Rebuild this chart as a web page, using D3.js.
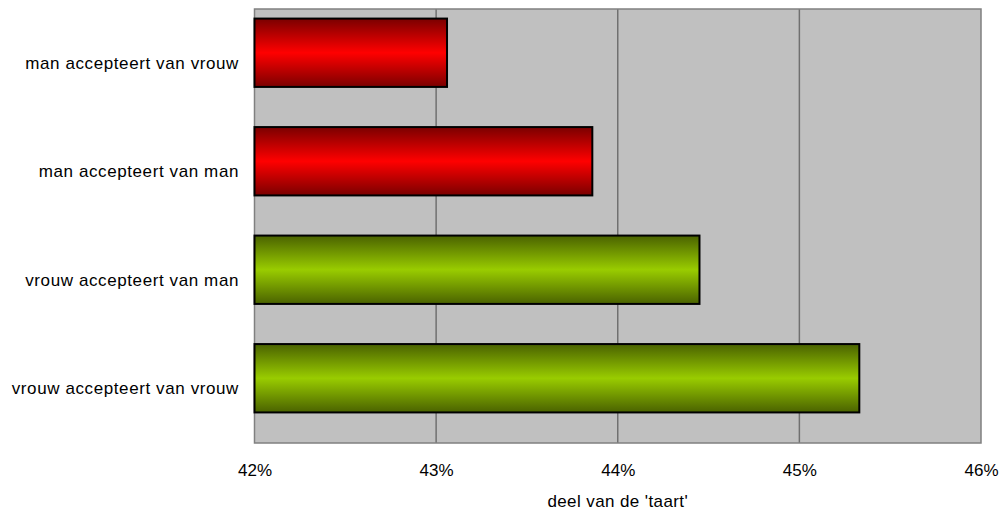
<!DOCTYPE html>
<html>
<head>
<meta charset="utf-8">
<script src="https://cdn.jsdelivr.net/npm/d3@7"></script>
<style>
  html, body { margin: 0; padding: 0; background: #ffffff; }
  svg text { font-family: "Liberation Sans", Arial, sans-serif; fill: #000; }
</style>
</head>
<body>
<svg id="chart" width="1006" height="510"></svg>
<script>
// Share of the 'pie' accepted, per responder/proposer combination
const categories = [
  "man accepteert van vrouw",
  "man accepteert van man",
  "vrouw accepteert van man",
  "vrouw accepteert van vrouw"
];
const values = [43.06, 43.86, 44.45, 45.33];
const groups = ["man", "man", "vrouw", "vrouw"];
const tickValues = [42, 43, 44, 45, 46];
const xTitle = "deel van de 'taart'";

const svg = d3.select("#chart");
const plot = { left: 254.5, right: 981, top: 9, bottom: 443 };

const x = d3.scaleLinear().domain([42, 46]).range([plot.left, plot.right]);

// Category bands for the labels fill the plot height
const yLabel = d3.scaleBand().domain(categories).range([plot.top, plot.bottom]);
// Bars sit slightly higher within each band
const yBar = d3.scaleBand().domain(categories)
  .range([plot.top - 10.5, plot.bottom - 10.5]).paddingInner(0.37).paddingOuter(0.185);

// Gradients for the two bar colours
const defs = svg.append("defs");
const grads = {
  man: ["#7a0000", "#ff0000"],
  vrouw: ["#4a6200", "#99cc00"]
};
Object.entries(grads).forEach(([k, [dark, light]]) => {
  const g = defs.append("linearGradient").attr("id", "g-" + k)
    .attr("x1", 0).attr("y1", 0).attr("x2", 0).attr("y2", 1);
  g.append("stop").attr("offset", "0%").attr("stop-color", dark);
  g.append("stop").attr("offset", "50%").attr("stop-color", light);
  g.append("stop").attr("offset", "100%").attr("stop-color", dark);
});

// Plot background
svg.append("rect")
  .attr("x", plot.left).attr("y", plot.top)
  .attr("width", plot.right - plot.left).attr("height", plot.bottom - plot.top)
  .attr("fill", "#c0c0c0");

// Vertical gridlines
svg.append("g").selectAll("line").data(tickValues.slice(1, -1)).join("line")
  .attr("x1", d => x(d)).attr("x2", d => x(d))
  .attr("y1", plot.top).attr("y2", plot.bottom)
  .attr("stroke", "#707070").attr("stroke-width", 1.5);

// Plot border
svg.append("rect")
  .attr("x", plot.left).attr("y", plot.top)
  .attr("width", plot.right - plot.left).attr("height", plot.bottom - plot.top)
  .attr("fill", "none").attr("stroke", "#808080").attr("stroke-width", 1.5);

// Bars
svg.append("g").selectAll("rect").data(categories).join("rect")
  .attr("x", x(42))
  .attr("y", d => yBar(d))
  .attr("width", (d, i) => x(values[i]) - x(42))
  .attr("height", yBar.bandwidth())
  .attr("fill", (d, i) => `url(#g-${groups[i]})`)
  .attr("stroke", "#000").attr("stroke-width", 2);

// Category labels
svg.append("g").selectAll("text").data(categories).join("text")
  .attr("x", 239)
  .attr("y", d => yLabel(d) + yLabel.bandwidth() / 2)
  .attr("text-anchor", "end")
  .attr("dominant-baseline", "central")
  .attr("font-size", "17px")
  .attr("letter-spacing", "0.6px")
  .text(d => d);

// X axis tick labels
const xAxis = d3.axisBottom(x).tickValues(tickValues)
  .tickFormat(d => d + "%").tickSize(0).tickPadding(0);
const ax = svg.append("g").attr("transform", `translate(0,${plot.bottom})`).call(xAxis);
ax.select(".domain").remove();
ax.selectAll("text")
  .attr("y", 27)
  .attr("dy", "0.35em")
  .attr("font-size", "17px")
  .attr("font-family", "Liberation Sans, Arial, sans-serif")
  .attr("fill", "#000");

// Axis title
svg.append("text")
  .attr("x", x(44)).attr("y", 501)
  .attr("text-anchor", "middle")
  .attr("dominant-baseline", "central")
  .attr("font-size", "17px")
  .attr("letter-spacing", "0.4px")
  .text(xTitle);
</script>
</body>
</html>
